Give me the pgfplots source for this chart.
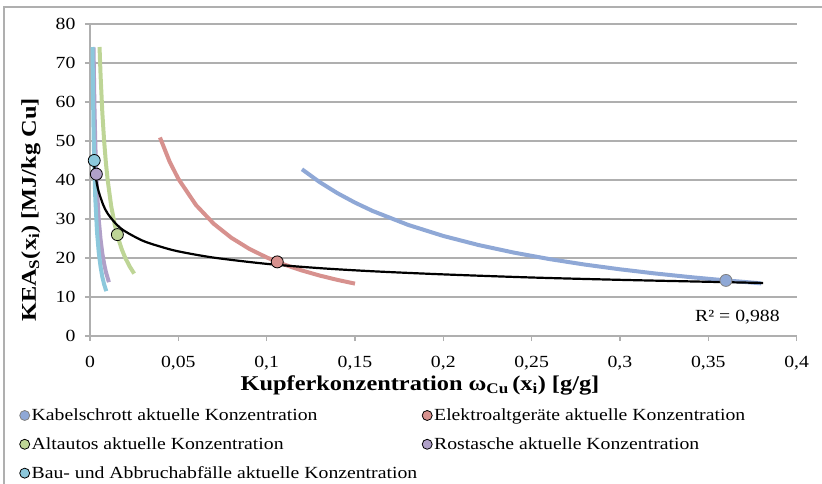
\documentclass[border=0pt]{standalone}
\usepackage{fontspec}
\setmainfont{Liberation Serif}[FakeStretch=1.16]
\usepackage{pgfplots}
\pgfplotsset{compat=1.18}

\definecolor{kabel}{RGB}{143,168,214}
\definecolor{elektro}{RGB}{215,145,142}
\definecolor{altauto}{RGB}{190,213,150}
\definecolor{rost}{RGB}{176,160,200}
\definecolor{bau}{RGB}{140,200,220}
\definecolor{gridgray}{RGB}{175,175,175}
\newcommand\cf{\fontsize{17pt}{20pt}\selectfont}
\newcommand\tf{\fontsize{21pt}{25pt}\selectfont\bfseries}

\begin{document}
\begin{tikzpicture}
\useasboundingbox (-90pt,-148pt) rectangle (732pt,336pt);
\begin{axis}[
  at={(0pt,0pt)}, anchor=south west,
  scale only axis, width=706.6pt, height=312pt,
  xmin=0, xmax=0.4, ymin=0, ymax=80,
  axis x line=bottom, axis y line=left,
  axis line style={-, gridgray, line width=1.3pt},
  xtick={0,0.05,0.1,0.15,0.2,0.25,0.3,0.35,0.4},
  xticklabels={0,{0,05},{0,1},{0,15},{0,2},{0,25},{0,3},{0,35},{0,4}},
  ytick={0,10,...,80},
  tick align=outside, major tick length=5pt,
  tick style={gridgray, line width=1.3pt},
  ymajorgrids, grid style={gridgray, line width=1.3pt},
  /pgf/number format/assume math mode=true,
  tick label style={font=\cf, black},
  yticklabel style={xshift=-6pt},
  xticklabel style={yshift=-12pt},
  clip=false,
  legend columns=2,
  legend cell align=left,
  legend style={at={(axis description cs:-0.104,-0.22)}, anchor=north west,
    draw=none, fill=none, font=\cf, row sep=11.5pt,
    /tikz/every even column/.append style={column sep=3pt}},
  legend image code/.code={\draw[#1, mark size=5pt] plot coordinates {(0.35em,0)};},
]
% fitted curves of the five material streams
\addplot[kabel, line width=4pt, forget plot] coordinates {
 (0.12,42.75) (0.13,39.46) (0.14,36.64) (0.15,34.2) (0.16,32.06) (0.18,28.5)
 (0.20,25.65) (0.22,23.32) (0.24,21.38) (0.26,19.73) (0.28,18.32) (0.30,17.1)
 (0.32,16.03) (0.34,15.09) (0.36,14.25) (0.38,13.5)};
\addplot[elektro, line width=4pt, forget plot] coordinates {
 (0.0396,50.9) (0.045,44.78) (0.05,40.3) (0.06,33.58) (0.07,28.79) (0.08,25.19)
 (0.09,22.39) (0.10,20.15) (0.11,18.32) (0.12,16.79) (0.13,15.5) (0.14,14.39) (0.15,13.43)};
\addplot[altauto, line width=4pt, forget plot] coordinates {
 (0.0054,74.1) (0.006,66.7) (0.007,57.1) (0.008,50) (0.009,44.4) (0.010,40)
 (0.012,33.3) (0.014,28.6) (0.016,25) (0.018,22.2) (0.020,20) (0.0225,17.8) (0.025,16)};
\addplot[rost, line width=4pt, forget plot] coordinates {
 (0.002,74) (0.0025,59.2) (0.003,49.3) (0.0035,42.3) (0.004,37) (0.005,29.6)
 (0.006,24.7) (0.007,21.1) (0.008,18.5) (0.009,16.4) (0.0107,13.8)};
\addplot[bau, line width=4pt, forget plot] coordinates {
 (0.00143,74.1) (0.0017,62.4) (0.002,53) (0.0025,42.4) (0.003,35.3) (0.004,26.5)
 (0.005,21.2) (0.006,17.7) (0.007,15.1) (0.008,13.25) (0.0092,11.5)};
% power trend line through the current concentrations
\addplot[black, line width=2.2pt, smooth, forget plot] coordinates {
 (0.0024,43.6) (0.003,41.5) (0.004,38.8) (0.005,36.9) (0.0075,33.6) (0.01,31.4)
 (0.015,28.6) (0.02,26.8) (0.03,24.4) (0.04,22.9) (0.05,21.7) (0.07,20.1)
 (0.1,18.5) (0.13,17.4) (0.16,16.6) (0.2,15.8) (0.25,15.0) (0.3,14.4)
 (0.35,13.9) (0.381,13.6)};
% current concentrations
\addplot[only marks, mark=*, mark size=6pt, mark options={fill=kabel, draw=gray, line width=0.8pt}]
 coordinates {(0.36,14.25)};
\addlegendentry{Kabelschrott aktuelle Konzentration}
\addplot[only marks, mark=*, mark size=6pt, mark options={fill=elektro, draw=black, line width=0.8pt}]
 coordinates {(0.106,19.0)};
\addlegendentry{Elektroaltgeräte aktuelle Konzentration}
\addplot[only marks, mark=*, mark size=6pt, mark options={fill=altauto, draw=black, line width=0.8pt}]
 coordinates {(0.0155,26.0)};
\addlegendentry{Altautos aktuelle Konzentration}
\addplot[only marks, mark=*, mark size=6pt, mark options={fill=rost, draw=black, line width=0.8pt}]
 coordinates {(0.0036,41.5)};
\addlegendentry{Rostasche aktuelle Konzentration}
\addplot[only marks, mark=*, mark size=6pt, mark options={fill=bau, draw=black, line width=0.8pt}]
 coordinates {(0.0024,45.0)};
\addlegendentry{Bau- und Abbruchabfälle aktuelle Konzentration}
\node[font=\cf, anchor=center] at (axis cs:0.3665,4.9) {R² = 0,988};
\end{axis}
% axis titles
\node[font=\tf, rotate=90] at (-59pt,126pt)
  {KEA\textsubscript{S}(x\textsubscript{i}) [MJ/kg Cu]};
\node[font=\tf] at (330pt,-49pt)
  {Kupferkonzentration ω\textsubscript{Cu}\,(x\textsubscript{i}) [g/g]};
% chart area frame
\draw[gridgray, line width=1.2pt] (-86pt,-148pt) -- (-86pt,329pt) -- (732pt,329pt);
\end{tikzpicture}
\end{document}
